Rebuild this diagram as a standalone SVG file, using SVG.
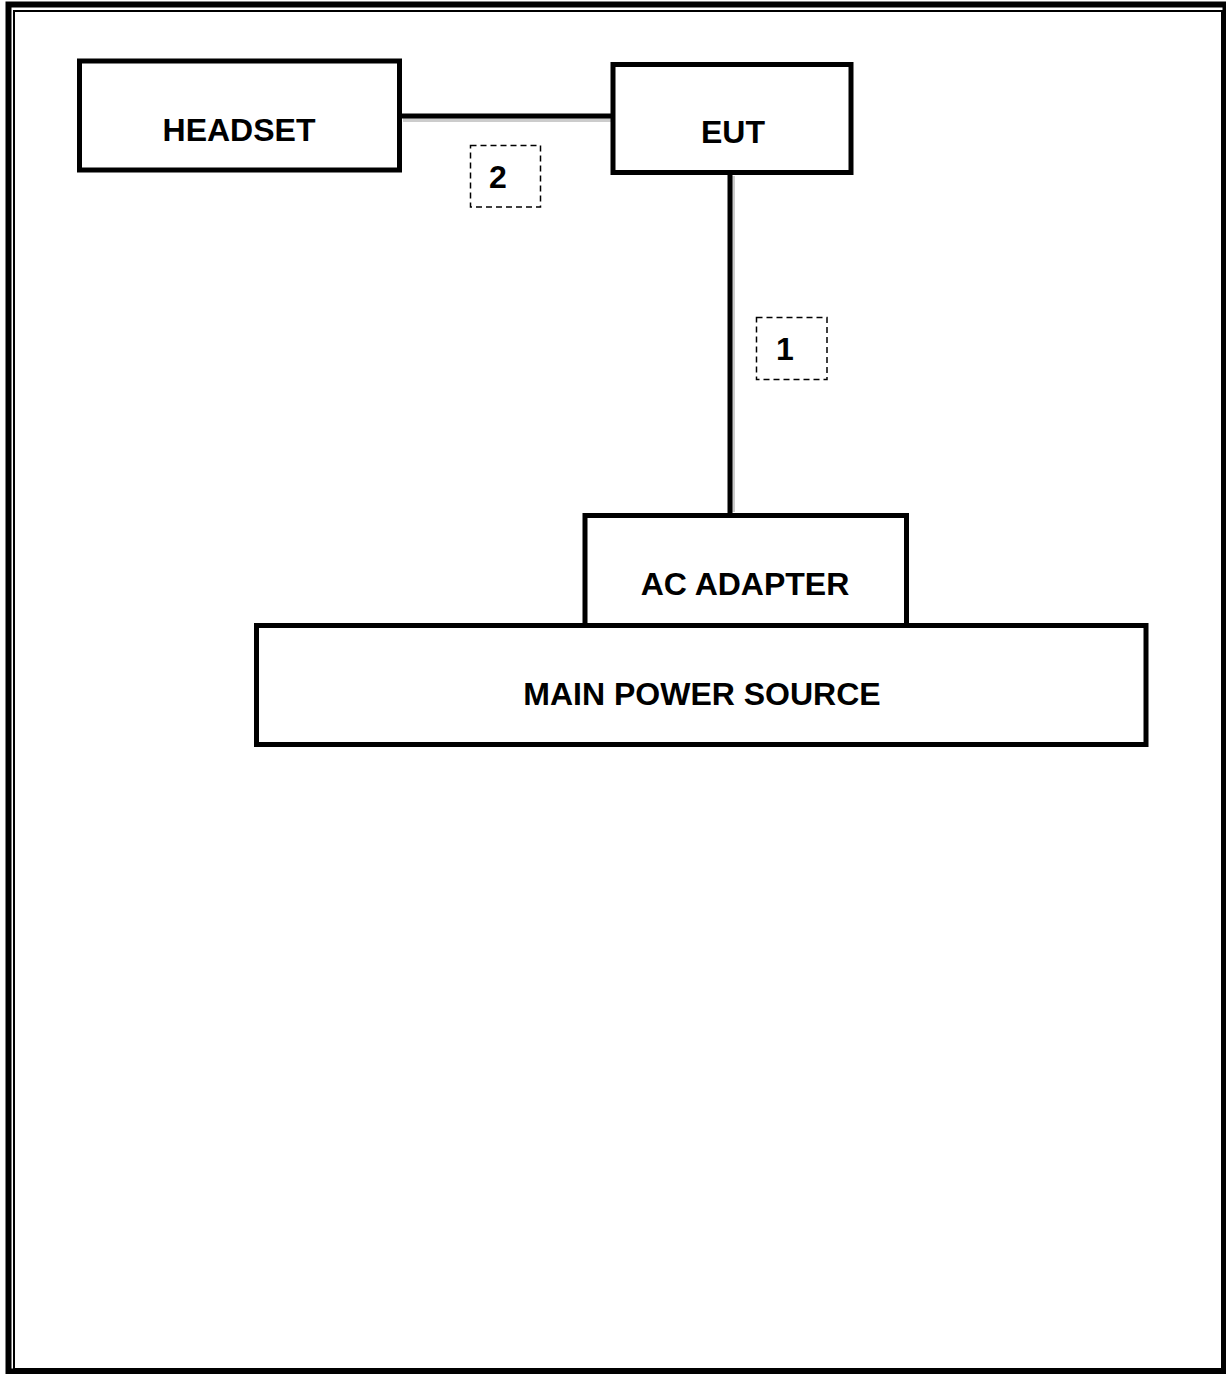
<svg xmlns="http://www.w3.org/2000/svg" width="1226" height="1374" viewBox="0 0 1226 1374">
<style>
.box{fill:#fff;stroke:#000;stroke-width:5}
.lbl{font-family:"Liberation Sans",Arial,sans-serif;font-weight:bold;font-size:32px;fill:#000;text-anchor:middle}
.tag{fill:none;stroke:#000;stroke-width:1.5;stroke-dasharray:6 4}
.wire{stroke:#000;stroke-width:5;fill:none}
.shadow{stroke:#ccc;stroke-width:4;fill:none}
</style>
<rect width="1226" height="1374" fill="#fff"/>
<rect x="8.5" y="4.5" width="1217" height="1367" fill="none" stroke="#000" stroke-width="6"/>
<rect x="14" y="11" width="1208" height="1358" fill="none" stroke="#000" stroke-width="2"/>
<g id="connectors">
<line class="shadow" x1="403" y1="120" x2="612" y2="120"/>
<line class="wire" x1="400" y1="116" x2="614" y2="116"/>
<line class="shadow" x1="733" y1="176" x2="733" y2="512"/>
<line class="wire" x1="730" y1="173" x2="730" y2="514"/>
</g>
<g id="headset">
<rect class="box" x="79.5" y="61" width="320" height="109"/>
<text class="lbl" x="239" y="141">HEADSET</text>
</g>
<g id="eut">
<rect class="box" x="613" y="64.5" width="238" height="108"/>
<text class="lbl" x="733" y="143">EUT</text>
</g>
<g id="tag2">
<rect class="tag" x="470.5" y="145.5" width="70" height="61.5"/>
<text class="lbl" x="498" y="188">2</text>
</g>
<g id="tag1">
<rect class="tag" x="756.5" y="317.5" width="70.5" height="62"/>
<text class="lbl" x="785" y="360">1</text>
</g>
<g id="ac-adapter">
<rect class="box" x="585" y="515.5" width="321.5" height="110"/>
<text class="lbl" x="745" y="595">AC ADAPTER</text>
</g>
<g id="main-power-source">
<rect class="box" x="256.5" y="625.5" width="889.5" height="119"/>
<text class="lbl" x="702" y="705">MAIN POWER SOURCE</text>
</g>
</svg>
